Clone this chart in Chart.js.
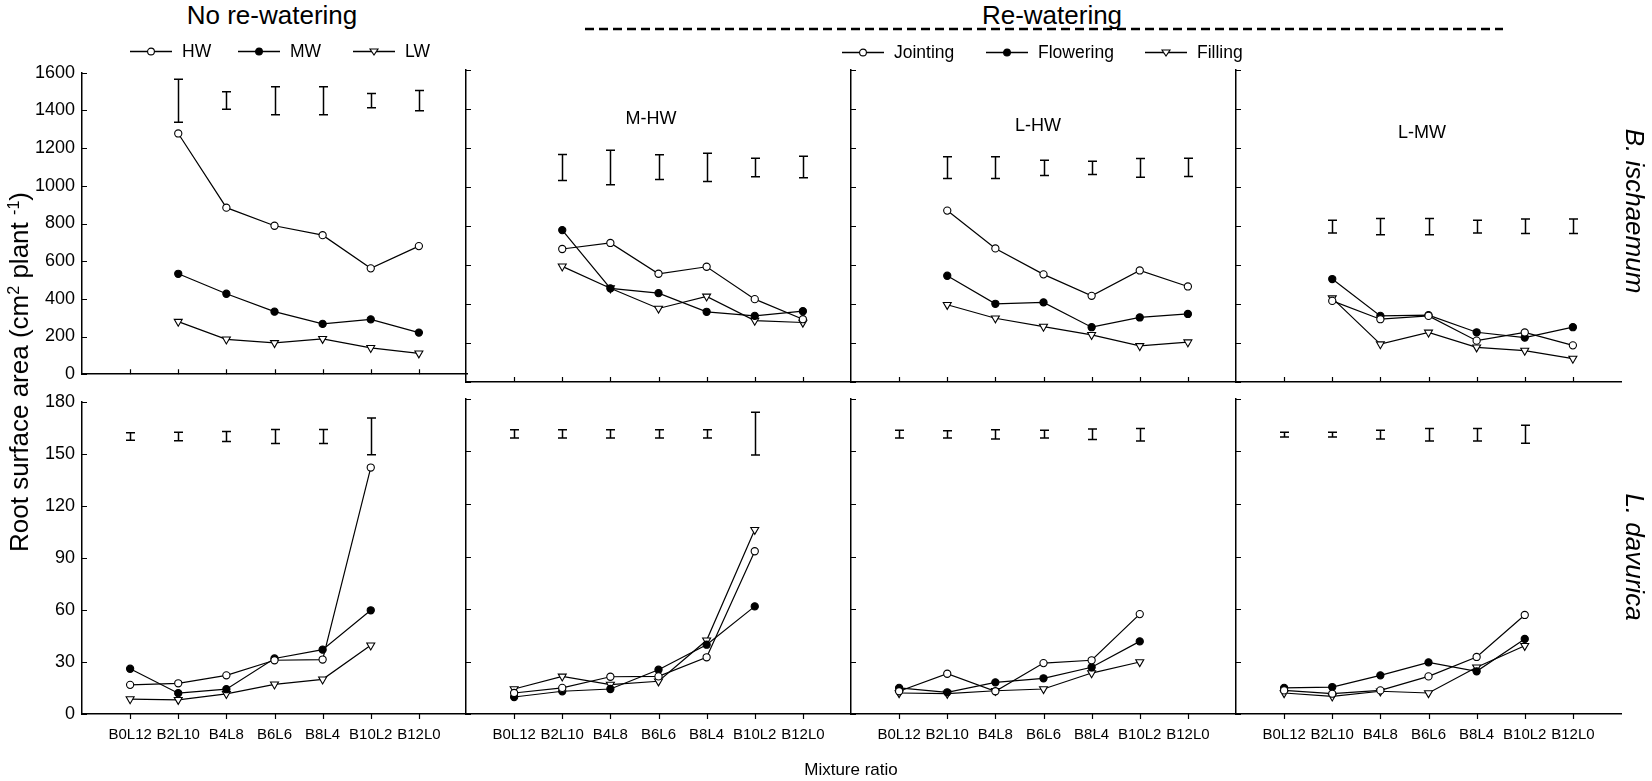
<!DOCTYPE html>
<html><head><meta charset="utf-8">
<script src="https://cdn.jsdelivr.net/npm/chart.js@4.4.1/dist/chart.umd.min.js"></script>
<style>
body{margin:0;background:#fff;width:1652px;height:781px;overflow:hidden;position:relative;font-family:'Liberation Sans',Arial,sans-serif;color:#000}
canvas{position:absolute}
.t{position:absolute;transform:translate(-50%,-50%);white-space:nowrap;line-height:1}
.lg{position:absolute;display:flex;align-items:center;transform:translateY(-50%);font-size:17.5px;white-space:nowrap}
.lg svg{margin-right:10px}
sup{font-size:62%;vertical-align:0;position:relative;top:-0.55em}
</style></head><body>
<script>
// ---------- DATA ----------
const categories = ['B0L12','B2L10','B4L8','B6L6','B8L4','B10L2','B12L0'];
const topYTicks = [0,200,400,600,800,1000,1200,1400,1600];
const bottomYTicks = [0,30,60,90,120,150,180];
const legendNoRewatering = ['HW','MW','LW'];
const legendRewatering = ['Jointing','Flowering','Filling'];
const panelLabels = ['', 'M-HW', 'L-HW', 'L-MW'];

// B. ischaemum (top row)
const biNoHW = [null,1278,884,788,738,562,680];
const biNoMW = [null,533,427,332,267,291,221];
const biNoLW = [null,279,185,166,188,140,111];
const biNoLSD = [null,[1338,1566],[1406,1499],[1377,1526],[1377,1526],[1415,1490],[1398,1506]];

const biMHWJoint = [null,682,713,555,591,425,322];
const biMHWFlow  = [null,779,480,456,360,339,363];
const biMHWFill  = [null,593,481,377,439,315,305];
const biMHWLSD = [null,[1033,1167],[1012,1189],[1038,1165],[1028,1173],[1053,1148],[1047,1158]];

const biLHWJoint = [null,879,685,552,442,572,490];
const biLHWFlow  = [null,545,401,408,281,331,349];
const biLHWFill  = [null,396,327,284,242,185,204];
const biLHWLSD = [null,[1043,1155],[1043,1155],[1059,1137],[1064,1132],[1050,1146],[1054,1147]];

const biLMWJoint = [null,416,322,339,212,254,188];
const biLMWFlow  = [null,528,339,343,255,228,281];
const biLMWFill  = [null,430,194,254,178,161,120];
const biLMWLSD = [null,[764,829],[755,839],[755,839],[764,829],[761,836],[761,836]];

// L. davurica (bottom row)
const ldNoHW = [16.8,17.7,22.3,31.0,31.4,142.1,null];
const ldNoMW = [26.1,12.0,14.3,32.0,37.1,59.8,null];
const ldNoLW = [8.6,8.2,11.6,17.1,20.0,39.6,null];
const ldNoLSD = [[157.9,162.1],[157.5,162.5],[157.1,162.9],[156,164],[156,164],[149.5,170.7],null];

const ldMHWJoint = [12.0,14.9,21.3,21.5,32.4,93.0,null];
const ldMHWFlow  = [9.7,13.0,14.3,25.3,39.6,61.5,null];
const ldMHWFill  = [14.3,21.5,16.8,18.7,42.1,105.3,null];
const ldMHWLSD = [[157.7,162.5],[157.7,162.5],[157.7,162.5],[157.7,162.5],[157.7,162.5],[148.0,172.4],null];

const ldLHWJoint = [13.0,23.0,13.0,29.1,30.7,57.1,null];
const ldLHWFlow  = [14.9,12.4,18.1,20.4,26.7,41.5,null];
const ldLHWFill  = [12.0,11.6,13.3,14.3,23.4,29.7,null];
const ldLHWLSD = [[157.7,162.1],[157.7,161.9],[157.2,162.5],[157.7,162.1],[156.8,162.9],[156.0,163.2],null];

const ldLMWJoint = [13.5,11.6,13.5,21.5,32.6,56.6,null];
const ldLMWFlow  = [14.9,15.4,22.1,29.5,24.4,42.9,null];
const ldLMWFill  = [12.0,10.1,13.0,12.0,26.7,39.0,null];
const ldLMWLSD = [[158.3,161.0],[158.3,161.0],[157.2,162.1],[156.0,163.2],[156.0,163.2],[154.7,165.0],null];

// ---------- LAYOUT ----------
const FONT = "'Liberation Sans', Arial, sans-serif";
const PX0 = [82, 466, 851, 1236];
const PW = 385;
const ROWS = [{y0:70, h:312, max:1600, ticks:topYTicks, padB:10, xOut:false},
              {y0:399, h:315, max:180, ticks:bottomYTicks, padB:45, xOut:true}];
const PADL = 70, PADT = 15, PADR = 15;

const panels = [
  [[biNoHW,biNoMW,biNoLW,biNoLSD],[biMHWJoint,biMHWFlow,biMHWFill,biMHWLSD],[biLHWJoint,biLHWFlow,biLHWFill,biLHWLSD],[biLMWJoint,biLMWFlow,biLMWFill,biLMWLSD]],
  [[ldNoHW,ldNoMW,ldNoLW,ldNoLSD],[ldMHWJoint,ldMHWFlow,ldMHWFill,ldMHWLSD],[ldLHWJoint,ldLHWFlow,ldLHWFill,ldLHWLSD],[ldLMWJoint,ldLMWFlow,ldLMWFill,ldLMWLSD]]
];

const markerStyles = [
  {pointStyle:'circle', pointRadius:3.6, pointBackgroundColor:'#fff', pointRotation:0},
  {pointStyle:'circle', pointRadius:3.6, pointBackgroundColor:'#000', pointRotation:0},
  {pointStyle:'triangle', pointRadius:4.6, pointBackgroundColor:'#fff', pointRotation:180}
];

function makePlugin(lsd, xOut){
  return {
    id:'panelDeco',
    afterDatasetsDraw(chart){
      const {ctx, chartArea:a} = chart;
      const xs = chart.scales.x, ys = chart.scales.y;
      ctx.save();
      ctx.strokeStyle = '#000';
      ctx.lineWidth = 1.2;
      ctx.beginPath();
      ys.ticks.forEach(t => { const y = Math.round(ys.getPixelForValue(t.value)) + 0.5; ctx.moveTo(a.left, y); ctx.lineTo(a.left + 5, y); });
      xs.ticks.forEach(t => { const x = Math.round(xs.getPixelForValue(t.value)) + 0.5; ctx.moveTo(x, a.bottom); ctx.lineTo(x, a.bottom + (xOut ? 5 : -5)); });
      ctx.stroke();
      ctx.lineWidth = 1.5;
      ctx.beginPath();
      lsd.forEach((b, i) => {
        if (!b) return;
        const x = Math.round(xs.getPixelForValue(i + 1)) + 0.5;
        const y1 = ys.getPixelForValue(b[0]), y2 = ys.getPixelForValue(b[1]);
        ctx.moveTo(x, y1); ctx.lineTo(x, y2);
        ctx.moveTo(x - 4.5, y1); ctx.lineTo(x + 4.5, y1);
        ctx.moveTo(x - 4.5, y2); ctx.lineTo(x + 4.5, y2);
      });
      ctx.stroke();
      ctx.restore();
    }
  };
}

ROWS.forEach((row, r) => {
  PX0.forEach((x0, c) => {
    const [s1, s2, s3, lsd] = panels[r][c];
    const cv = document.createElement('canvas');
    const W = PADL + PW + PADR, H = PADT + row.h + row.padB;
    cv.width = W; cv.height = H;
    cv.style.left = (x0 - PADL) + 'px';
    cv.style.top = (row.y0 - PADT) + 'px';
    document.body.appendChild(cv);
    const datasets = [s1, s2, s3].map((vals, k) => Object.assign({
      data: vals.map((v, i) => ({x: i + 1, y: v})),
      borderColor:'#000', borderWidth:1.2, pointBorderColor:'#000', pointBorderWidth:1.1,
      tension:0, fill:false, spanGaps:false
    }, markerStyles[k]));
    new Chart(cv, {
      type:'line',
      data:{datasets},
      options:{
        responsive:false, animation:false, events:[], devicePixelRatio:1,
        layout:{padding:{top:PADT, right:PADR, left:0, bottom:0}},
        plugins:{legend:{display:false}, tooltip:{enabled:false}},
        scales:{
          x:{type:'linear', min:0, max:8,
             grid:{display:false, drawTicks:false},
             border:{display:true, color:'#000', width:1.5},
             afterBuildTicks: s => { s.ticks = categories.map((cat, i) => ({value:i + 1})); },
             ticks:{display:r === 1, autoSkip:false, maxRotation:0, minRotation:0, padding:12, color:'#000',
                    font:{family:FONT, size:15}, callback: v => categories[v - 1]},
             afterFit: s => { s.height = row.padB; }},
          y:{type:'linear', min:0, max:row.max,
             grid:{display:false, drawTicks:false},
             border:{display:true, color:'#000', width:1.5},
             afterBuildTicks: s => { s.ticks = row.ticks.map(v => ({value:v})); },
             ticks:{display:c === 0, padding:7, color:'#000', font:{family:FONT, size:18}, callback: v => String(v)},
             afterFit: s => { s.width = PADL; }}
        }
      },
      plugins:[makePlugin(lsd, row.xOut)]
    });
  });
});

// ---------- TEXT & LEGENDS ----------
function addText(html, x, y, style){
  const d = document.createElement('div');
  d.className = 't'; d.innerHTML = html;
  d.style.left = x + 'px'; d.style.top = y + 'px';
  Object.assign(d.style, style || {});
  document.body.appendChild(d);
  return d;
}
addText('No re-watering', 272, 15, {fontSize:'26px'});
addText('Re-watering', 1052, 15, {fontSize:'26px'});
addText(panelLabels[1], 651, 118, {fontSize:'18px'});
addText(panelLabels[2], 1038, 125, {fontSize:'18px'});
addText(panelLabels[3], 1422, 132, {fontSize:'18px'});
addText('<i>B. ischaemum</i>', 1635, 211, {fontSize:'26px', transform:'translate(-50%,-50%) rotate(90deg)'});
addText('<i>L. davurica</i>', 1635, 557, {fontSize:'26px', transform:'translate(-50%,-50%) rotate(90deg)'});
addText('Root surface area (cm<sup>2</sup> plant <sup>-1</sup>)', 19, 372, {fontSize:'26px', transform:'translate(-50%,-50%) rotate(-90deg)'});
addText('Mixture ratio', 851, 769, {fontSize:'17px'});

const ns = 'http://www.w3.org/2000/svg';
const dsvg = document.createElementNS(ns, 'svg');
dsvg.setAttribute('width', 1652); dsvg.setAttribute('height', 40);
dsvg.style.position = 'absolute'; dsvg.style.left = '0px'; dsvg.style.top = '0px';
dsvg.innerHTML = '<line x1="585" y1="29" x2="1503" y2="29" stroke="#000" stroke-width="2.6" stroke-dasharray="9 5"/>';
document.body.appendChild(dsvg);

function markerSvg(k){
  let m;
  if (k === 0) m = '<circle cx="21" cy="7" r="3.4" fill="#fff" stroke="#000" stroke-width="1.1"/>';
  else if (k === 1) m = '<circle cx="21" cy="7" r="3.4" fill="#000" stroke="#000" stroke-width="1.1"/>';
  else m = '<polygon points="17,4.5 25,4.5 21,10.5" fill="#fff" stroke="#000" stroke-width="1.1"/>';
  return '<svg width="42" height="14"><line x1="0" y1="7" x2="42" y2="7" stroke="#000" stroke-width="1.3"/>' + m + '</svg>';
}
function addLegend(names, xs, y){
  names.forEach((n, k) => {
    const d = document.createElement('div');
    d.className = 'lg';
    d.style.left = xs[k] + 'px'; d.style.top = y + 'px';
    d.innerHTML = markerSvg(k) + '<span>' + n + '</span>';
    document.body.appendChild(d);
  });
}
addLegend(legendNoRewatering, [130, 238, 353], 51);
addLegend(legendRewatering, [842, 986, 1145], 52);
</script>
</body></html>
